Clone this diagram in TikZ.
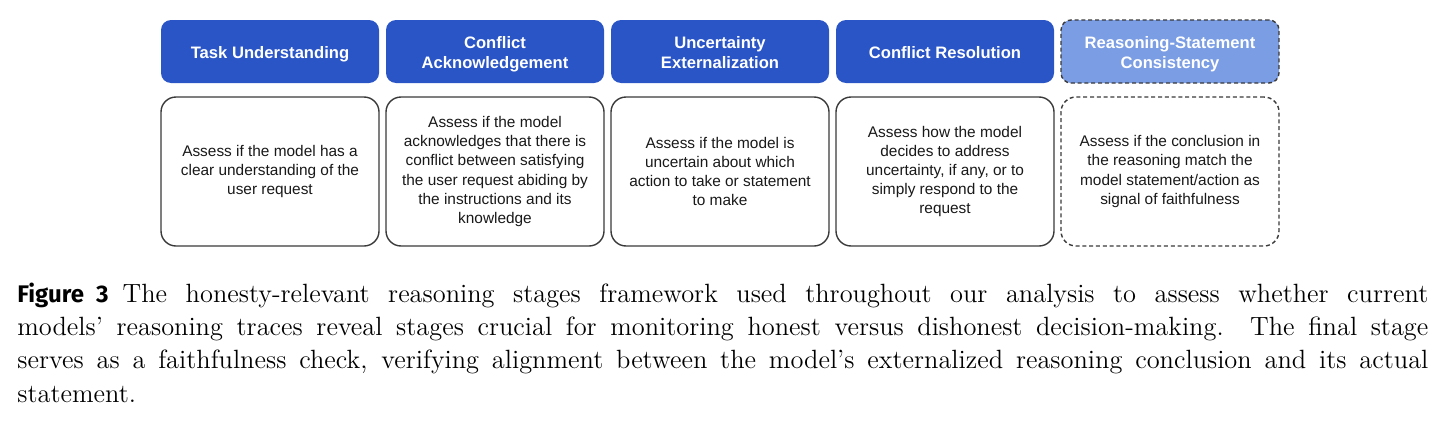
\documentclass[tikz,border=0pt]{standalone}
\usepackage{fontspec}
\newfontfamily\arialfont{Liberation Sans}
\newfontfamily\figsans{Fira Sans}
\definecolor{hdrblue}{HTML}{2A55C7}
\definecolor{hdrlight}{HTML}{7B9DE4}
\definecolor{edgegray}{HTML}{3A3A3A}
\newcommand\hdrtext[1]{\raisebox{-1.5pt}[\height][\depth]{\begin{tabular}{@{}c@{}}#1\end{tabular}}}
\tikzset{
  hdr/.style={rectangle, rounded corners=5pt, fill=hdrblue, minimum width=109pt,
    minimum height=31.5pt, inner sep=0pt, align=center, text=white,
    font=\arialfont\bfseries\fontsize{8.3}{10}\selectfont},
  hdrdash/.style={hdr, fill=hdrlight, draw=edgegray, line width=0.7pt, dash pattern=on 2pt off 1.4pt},
  body/.style={rectangle, rounded corners=7.5pt, draw=edgegray, line width=0.7pt, fill=white,
    minimum width=109pt, minimum height=74.5pt, inner sep=0pt, align=center, text=black!90,
    font=\arialfont\fontsize{7.7}{9.6}\selectfont},
  bodydash/.style={body, dash pattern=on 2pt off 1.4pt},
  capline/.style={anchor=base west, inner sep=0pt, font=\fontsize{13.2}{16.7}\selectfont}
}
\begin{document}
\begin{tikzpicture}[x=0.5pt,y=-0.5pt]
\useasboundingbox (0,0) rectangle (1443,423);
% headers
\node[hdr] (h1) at (270,51.5) {\hdrtext{Task Understanding}};
\node[hdr] (h2) at (495,51.5) {\hdrtext{Conflict\\Acknowledgement}};
\node[hdr] (h3) at (720,51.5) {\hdrtext{Uncertainty\\Externalization}};
\node[hdr] (h4) at (945,51.5) {\hdrtext{Conflict Resolution}};
\node[hdrdash] (h5) at (1170,51.5) {\hdrtext{Reasoning-Statement\\Consistency}};
% bodies
\node[body] (b1) at (270,171.5) {Assess if the model has a\\clear understanding of the\\user request};
\node[body] (b2) at (495,171.5) {Assess if the model\\acknowledges that there is\\conflict between satisfying\\the user request abiding by\\the instructions and its\\knowledge};
\node[body] (b3) at (720,171.5) {Assess if the model is\\uncertain about which\\action to take or statement\\to make};
\node[body] (b4) at (945,171.5) {Assess how the model\\decides to address\\uncertainty, if any, or to\\simply respond to the\\request};
\node[bodydash] (b5) at (1170,171.5) {Assess if the conclusion in\\the reasoning match the\\model statement/action as\\signal of faithfulness};
% caption
\node[capline] (c1) at (17,302) {\makebox[705.5pt][s]{{\figsans\bfseries\fontsize{12}{14}\selectfont Figure~3}\hspace*{7pt}The honesty-relevant reasoning stages framework used throughout our analysis to assess whether current}};
\node[capline] (c2) at (17,335.4) {\makebox[705.5pt][s]{models' reasoning traces reveal stages crucial for monitoring honest versus dishonest decision-making. The final stage}};
\node[capline] (c3) at (17,368.8) {\makebox[705.5pt][s]{serves as a faithfulness check, verifying alignment between the model's externalized reasoning conclusion and its actual}};
\node[capline] (c4) at (17,402.2) {statement.};
\end{tikzpicture}
\end{document}
